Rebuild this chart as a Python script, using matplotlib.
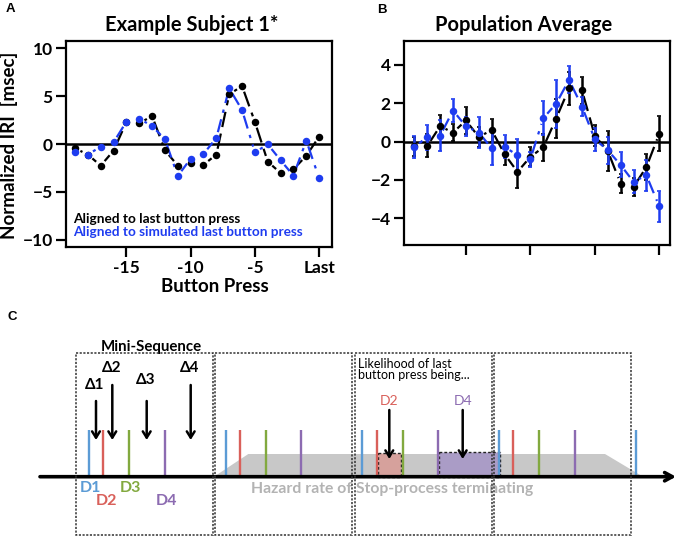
import numpy as np
import matplotlib
matplotlib.use('Agg')
import matplotlib.pyplot as plt
from matplotlib.patches import Polygon, Rectangle

plt.rcParams['font.family'] = ['Lato', 'DejaVu Sans']

# ---------------- data ----------------
presses = np.arange(-19, 1)
xtick_vals = [-15, -10, -5, 0]
xtick_labels = ['-15', '-10', '-5', 'Last']

subj_last = [-0.45, -1.10, -2.26, -0.70, 2.30, 2.16, 2.92, -0.66, -2.26, -2.02,
             -2.16, -1.11, 5.18, 6.05, 2.30, -1.84, -3.03, -2.64, -1.22, 0.77]
subj_sim = [-0.80, -1.10, -0.28, 0.17, 2.33, 2.64, 1.88, 0.49, -3.34, -1.53,
            -1.04, 0.63, 5.81, 3.55, -0.87, -0.03, -1.70, -3.30, 0.35, -3.58]

pop_last = [-0.25, -0.23, 0.80, 0.47, 1.10, 0.24, 0.60, -0.66, -1.58, -0.80,
            -0.30, 1.20, 2.78, 2.68, 0.30, -0.48, -2.20, -2.37, -1.33, 0.42]
pop_last_err = [0.50, 0.60, 0.60, 0.45, 0.70, 0.50, 0.60, 0.55, 0.85, 0.50,
                0.70, 1.00, 0.87, 0.70, 0.55, 1.05, 0.50, 0.45, 0.70, 0.90]
pop_sim = [-0.28, 0.23, 0.30, 1.62, 0.80, 0.47, -0.35, -0.28, -0.71, -0.92,
           1.22, 1.98, 3.22, 1.83, 0.12, -0.45, -1.22, -2.10, -1.76, -3.39]
pop_sim_err = [0.57, 0.65, 0.80, 0.60, 0.50, 0.80, 0.85, 0.60, 0.85, 0.40,
               0.90, 1.25, 0.70, 0.50, 0.60, 0.70, 0.65, 0.60, 0.80, 0.80]

seq_labels = ['D1', 'D2', 'D3', 'D4']
seq_colors = ['#5b9bd5', '#d9605a', '#82a93f', '#8c6bb1']
delta_labels = ['Δ1', 'Δ2', 'Δ3', 'Δ4']

BLACK = '#000000'
BLUE = '#1e3cf0'

W, H = 677, 543
fig = plt.figure(figsize=(W / 100, H / 100), dpi=100)

# overlay axes in pixel coordinates (for texts and the schematic)
ov = fig.add_axes([0, 0, 1, 1], zorder=0)
ov.set_xlim(0, W)
ov.set_ylim(H, 0)
ov.axis('off')
ov.patch.set_visible(False)


def px_axes(l, t, r, b):
    return fig.add_axes([l / W, 1 - b / H, (r - l) / W, (b - t) / H], zorder=2)


def gapped_line(ax, x, y, gap, **kw):
    pts = ax.transData.transform(np.column_stack([x, y]))
    inv = ax.transData.inverted()
    for p0, p1 in zip(pts[:-1], pts[1:]):
        d = p1 - p0
        L = np.hypot(*d)
        if L <= 2 * gap + 2:
            continue
        u = d / L
        q = inv.transform(np.array([p0 + u * gap, p1 - u * gap]))
        ax.plot(q[:, 0], q[:, 1], **kw)


def style_axes(ax, ylim, yticks):
    ax.set_xlim(-19.7, 1.0)
    ax.set_ylim(*ylim)
    ax.set_yticks(yticks)
    ax.set_xticks(xtick_vals)
    for s in ax.spines.values():
        s.set_linewidth(1.6)
        s.set_color(BLACK)
    ax.tick_params(axis='both', direction='out', length=7.5, width=1.6,
                   labelsize=12.5, colors=BLACK, pad=2)
    for lab in ax.get_yticklabels() + ax.get_xticklabels():
        lab.set_fontweight('bold')
    ax.axhline(0, color=BLACK, lw=1.8, zorder=1)


# ---------------- Panel A ----------------
axA = px_axes(66, 41, 332, 247)
style_axes(axA, (-10.75, 10.75), [-10, -5, 0, 5, 10])
axA.set_xticklabels(xtick_labels)
for lab in axA.get_xticklabels():
    lab.set_fontweight('bold')
gapped_line(axA, presses, subj_last, 6, color=BLACK, lw=1.6, dashes=(7, 3), zorder=2)
gapped_line(axA, presses, subj_sim, 6, color=BLUE, lw=1.6, dashes=(6, 3, 1.5, 3), zorder=3)
axA.plot(presses, subj_last, 'o', color=BLACK, ms=5.4, mec='none', zorder=4)
axA.plot(presses, subj_sim, 'o', color=BLUE, ms=5.4, mec='none', zorder=5)
axA.text(0.025, 0.135, 'Aligned to last button press', transform=axA.transAxes,
         fontsize=9.8, fontweight='bold', color=BLACK, va='center')
axA.text(0.025, 0.075, 'Aligned to simulated last button press', transform=axA.transAxes,
         fontsize=9.8, fontweight='bold', color=BLUE, va='center')

# ---------------- Panel B ----------------
axB = px_axes(404, 41, 670, 245)
style_axes(axB, (-5.4, 5.25), [-4, -2, 0, 2, 4])
axB.set_xlim(-19.8, 0.83)
axB.set_xticklabels([])
axB.errorbar(presses, pop_last, yerr=pop_last_err, fmt='none', ecolor=BLACK,
             elinewidth=1.8, capsize=1.5, capthick=1.2, zorder=2)
axB.errorbar(presses, pop_sim, yerr=pop_sim_err, fmt='none', ecolor=BLUE,
             elinewidth=1.8, capsize=1.5, capthick=1.2, zorder=3)
gapped_line(axB, presses, pop_last, 6, color=BLACK, lw=1.6, dashes=(7, 3), zorder=2)
gapped_line(axB, presses, pop_sim, 6, color=BLUE, lw=1.6, dashes=(6, 3, 1.5, 3), zorder=3)
axB.plot(presses, pop_last, 'o', color=BLACK, ms=5.4, mec='none', zorder=4)
axB.plot(presses, pop_sim, 'o', color=BLUE, ms=5.4, mec='none', zorder=5)

# ---------------- titles / labels ----------------
ov.text(10, 9, 'A', family='Liberation Sans', fontweight='bold', fontsize=9.5, ha='center', va='center')
ov.text(382, 10, 'B', family='Liberation Sans', fontweight='bold', fontsize=9.5, ha='center', va='center')
ov.text(12.5, 317, 'C', family='Liberation Sans', fontweight='bold', fontsize=9.5, ha='center', va='center')
ov.text(192, 25, 'Example Subject 1*', fontsize=14.5, fontweight='bold', ha='center', va='center')
ov.text(524, 25, 'Population Average', fontsize=14.5, fontweight='bold', ha='center', va='center')
ov.text(9, 145, 'Normalized IRI  [msec]', fontsize=13.5, fontweight='bold', rotation=90,
        ha='center', va='center')
ov.text(215, 287, 'Button Press', fontsize=13.5, fontweight='bold', ha='center', va='center')

# ---------------- Panel C (schematic) ----------------
base_y = 476.7
tick_top = 430
first = 89.0
period = 136.7
offsets = [0.0, 14.3, 40.3, 75.7]

# hazard trapezoid
ov.add_patch(Polygon([(214, base_y), (248.3, 454), (605, 454), (643, base_y)],
                     closed=True, fc='#c8c8c8', ec='none', zorder=1))

# shaded likelihood windows in the third mini-sequence
g3 = first + 2 * period
ov.add_patch(Rectangle((g3 + offsets[1] + 1.6, 453.3), offsets[2] - offsets[1] - 3.2, base_y - 453.3,
                       fc='#d6a19c', ec='#222222', lw=1.0, ls=(0, (2, 1.5)), zorder=2))
ov.add_patch(Rectangle((g3 + offsets[3] + 1.3, 452.3), period - offsets[3] - 0.3, base_y - 452.3,
                       fc='#aa9cc6', ec='#222222', lw=1.0, ls=(0, (2, 1.5)), zorder=2))

# colored presses
for g in range(4):
    for off, c in zip(offsets, seq_colors):
        x = first + g * period + off
        ov.plot([x, x], [tick_top, base_y], color=c, lw=1.7, solid_capstyle='butt', zorder=3)
x = first + 4 * period
ov.plot([x, x], [tick_top, base_y], color=seq_colors[0], lw=1.7, solid_capstyle='butt', zorder=3)

# baseline arrow
ov.annotate('', xy=(676, base_y), xytext=(40, base_y),
            arrowprops=dict(arrowstyle='->,head_length=0.55,head_width=0.3', lw=2.6,
                            color='black', shrinkA=0, shrinkB=0), zorder=4)

# dashed mini-sequence boxes
box_left = 75.7
box_period = 139.4
for i in range(4):
    l = box_left + i * box_period
    ov.add_patch(Rectangle((l, 353.3), 137.3, 535 - 353.3, fill=False, ec='#333333',
                           lw=1.1, ls=(0, (1.4, 1.0)), zorder=5))

# delta arrows
delta_x = [96, 112.3, 146.7, 190.7]
delta_top = [393, 377, 393, 377]
delta_lab_y = [386, 369, 380.7, 369]
for xd, yt, ly, lab in zip(delta_x, delta_top, delta_lab_y, delta_labels):
    ov.annotate('', xy=(xd, 440), xytext=(xd, yt + 8),
                arrowprops=dict(arrowstyle='->,head_length=0.45,head_width=0.28', lw=1.8,
                                color='black', shrinkA=0, shrinkB=0), zorder=6)
    ov.text(xd - 1, ly - 1, lab, fontsize=11, fontweight='bold', ha='center', va='center', zorder=6)

ov.text(151.5, 346.5, 'Mini-Sequence', fontsize=10.8, fontweight='bold', ha='center', va='center')

# D labels below axis
d_lab_x = [90, 106.7, 130, 166.7]
d_lab_y = [488.5, 501, 488.5, 501]
for xl, yl, lab, c in zip(d_lab_x, d_lab_y, seq_labels, seq_colors):
    ov.text(xl, yl, lab, fontsize=11.5, fontweight='bold', color=c, ha='center', va='center', zorder=6)

ov.text(251, 489.5, 'Hazard rate of Stop-process terminating', fontsize=11.3,
        fontweight='bold', color='#b3b3b3', ha='left', va='center', zorder=0.5)

# likelihood annotation
ov.text(358.5, 369.5, 'Likelihood of last\nbutton press being...', fontsize=9,
        ha='left', va='center', linespacing=0.95, zorder=6)
for xa, lab, c in zip([389.3, 462.7], ['D2', 'D4'], [seq_colors[1], seq_colors[3]]):
    ov.text(xa, 401, lab, fontsize=10, color=c, ha='center', va='center', zorder=6)
    ov.annotate('', xy=(xa, 459), xytext=(xa, 410),
                arrowprops=dict(arrowstyle='->,head_length=0.45,head_width=0.28', lw=1.8,
                                color='black', shrinkA=0, shrinkB=0), zorder=6)

fig.savefig('out.png', dpi=100)
